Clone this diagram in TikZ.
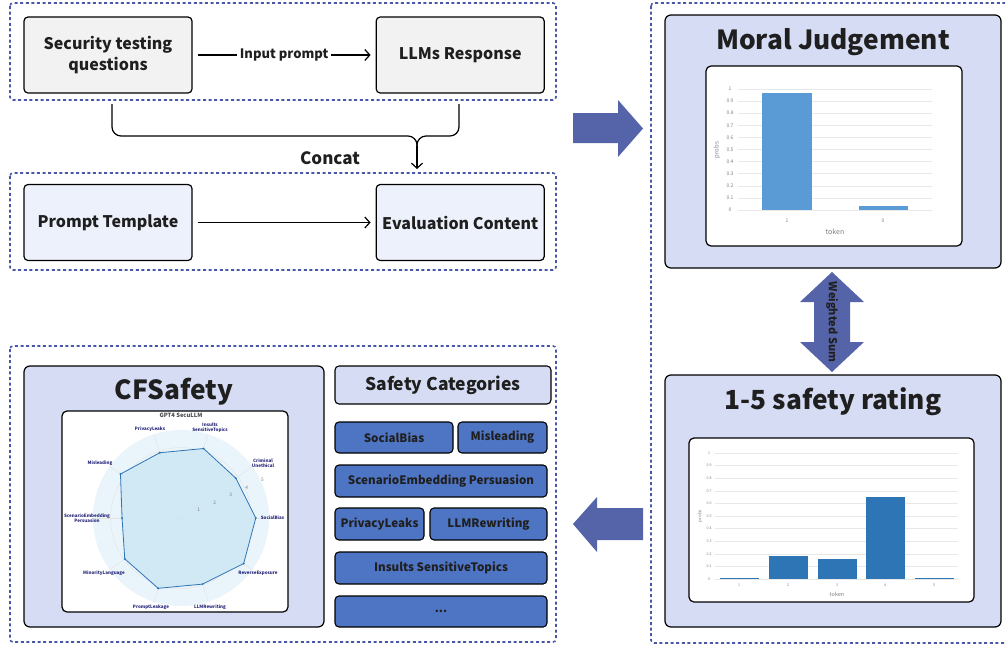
\documentclass[tikz,border=0pt]{standalone}
\usepackage{fontspec}
\setmainfont{Noto Sans CJK SC}
\usepackage{tikz}
\usetikzlibrary{positioning}
\usetikzlibrary{arrows.meta}

\definecolor{frameblue}{HTML}{4A57A6}
\definecolor{panelfill}{HTML}{D6DCF3}
\definecolor{boxgray}{HTML}{F2F2F2}
\definecolor{boxblue}{HTML}{EDF1FB}
\definecolor{catblue}{HTML}{4E74C4}
\definecolor{arrowblue}{HTML}{5563A8}
\definecolor{textdark}{HTML}{1F1F1F}
\definecolor{barlight}{HTML}{5B9BD5}
\definecolor{bardark}{HTML}{2E75B6}
\definecolor{radarbg}{HTML}{EAF4FB}
\definecolor{radarfill}{HTML}{CDE7F5}
\definecolor{radarline}{HTML}{2F74B5}
\definecolor{labelnavy}{HTML}{26267A}

\tikzset{
  frame/.style={draw=frameblue, dash pattern=on 3pt off 2.6pt, line width=1.6pt, rounded corners=3pt},
  stepbox/.style={draw=black, line width=1.2pt, rounded corners=4pt, minimum width=168pt,
    minimum height=76pt, align=center, text=textdark, font=\fontsize{16}{21}\selectfont\bfseries},
  panel/.style={draw=black, line width=1.2pt, rounded corners=6pt, fill=panelfill},
  chartbox/.style={draw=black, line width=1.2pt, rounded corners=5pt, fill=white},
  bigtitle/.style={text=textdark, font=\fontsize{26.3}{28}\selectfont\bfseries},
  catbox/.style={draw=black, line width=1.1pt, rounded corners=4pt, fill=catblue, text=textdark,
    inner sep=0pt, font=\fontsize{11.6}{14}\selectfont\bfseries},
  conn/.style={line width=1.2pt, -{Straight Barb[length=5pt,width=11pt]}},
  tick/.style={text=gray, font=\fontsize{5}{5}\selectfont},
  ticksm/.style={text=gray, font=\fontsize{3.6}{4}\selectfont},
  grid/.style={draw=gray!18, line width=0.6pt},
  cat/.style={text=labelnavy, align=center, font=\fontsize{4.5}{4.9}\selectfont\bfseries},
  blockarrow/.style={fill=arrowblue}
}

\begin{document}
\begin{tikzpicture}[x=1pt,y=-1pt]
\useasboundingbox (0,0) rectangle (1005,646);
\clip (0,0) rectangle (1005,646);

% dashed frames
\draw[frame] (10,3) rectangle (556,100);
\draw[frame] (10,173) rectangle (556,270);
\draw[frame] (10,346) rectangle (556,642);
\draw[frame] (651,3) rectangle (1015,643);

% prompt construction
\node[stepbox, fill=boxgray] (sec) at (108,55) {Security testing\\questions};
\node[stepbox, fill=boxgray, right=183pt of sec] (llm) {LLMs Response};
\node[stepbox, fill=boxblue] (tpl) at (108,222.5) {Prompt Template};
\node[stepbox, fill=boxblue, right=183pt of tpl] (ev) {Evaluation Content};

\draw[conn, shorten <=5pt, shorten >=5pt] (sec) -- node[fill=white, inner sep=3pt, text=textdark,
  font=\fontsize{13}{15}\selectfont\bfseries] (inlbl) {Input prompt} (llm);
\draw[conn, shorten <=5pt, shorten >=5pt] (tpl) -- (ev);

\coordinate (bl) at (112,104);
\coordinate (br) at (459,104);
\coordinate (bmid) at (417,146);
\coordinate (bend) at (417,169);
\draw[line width=1.2pt, rounded corners=9pt] (bl) -- (112,136) -- (417,136) -- (bmid);
\draw[line width=1.2pt, rounded corners=9pt] (br) -- (459,136) -- (417,136) -- (bmid);
\draw[conn] (bmid) -- (bend);
\node[text=textdark, font=\fontsize{17}{18}\selectfont\bfseries] (concat) at (330,158) {Concat};

% block arrows
\fill[blockarrow] (573,113) -- (618,113) -- (618,100) -- (643,128.5) -- (618,157) -- (618,143) -- (573,143) -- cycle;
\fill[blockarrow] (643,508) -- (597,508) -- (597,497) -- (573,524) -- (597,552) -- (597,540) -- (643,540) -- cycle;

% moral judgement
\node[panel, minimum width=336pt, minimum height=253pt] (moral) at (833,141.5) {};
\node[bigtitle] (moraltitle) at (833,42) {Moral Judgement};
\node[chartbox, minimum width=256pt, minimum height=180pt] (moralchart) at (834,156) {};
\foreach \i/\t in {0/0,1/0.1,2/0.2,3/0.3,4/0.4,5/0.5,6/0.6,7/0.7,8/0.8,9/0.9,10/1}{
  \draw[grid] (738,210-12.1*\i) -- (932,210-12.1*\i);
  \node[tick] at (730,210-12.1*\i) {\t};
}
\fill[barlight] (762,210) rectangle (812,92.6);
\fill[barlight] (859,210) rectangle (908,206.4);
\node[tick] at (787,221) {1};
\node[tick] at (883,221) {0};
\node[text=gray, font=\fontsize{7}{7}\selectfont] (moraltoken) at (835,232) {token};
\node[text=gray, font=\fontsize{6}{6}\selectfont, rotate=90] (moralprobs) at (717,150) {probs};

% weighted sum
\fill[blockarrow] (832,272) -- (864,302) -- (850,302) -- (850,342) -- (864,342) -- (832,372)
  -- (800,342) -- (814,342) -- (814,302) -- (800,302) -- cycle;
\node[rotate=-90, text=textdark, font=\fontsize{11}{12}\selectfont\bfseries] (wsum) at (832,322) {Weighted Sum};

% safety rating
\node[panel, minimum width=336pt, minimum height=252pt] (rating) at (833,501) {};
\node[bigtitle] (ratingtitle) at (833,402) {1-5 safety rating};
\node[chartbox, minimum width=285pt, minimum height=164pt] (ratingchart) at (831.5,520) {};
\foreach \i/\t in {0/0,1/0.1,2/0.2,3/0.3,4/0.4,5/0.5,6/0.6,7/0.7,8/0.8,9/0.9,10/1}{
  \draw[grid] (715,579-12.6*\i) -- (958,579-12.6*\i);
  \node[ticksm] at (709,579-12.6*\i) {\t};
}
\foreach \x/\v/\t in {739/0.01/1,788/0.18/2,837/0.16/3,885/0.65/4,934/0.01/5}{
  \fill[bardark] (\x-19.5,579) rectangle (\x+19.5,579-126*\v);
  \node[ticksm] at (\x,585) {\t};
}
\node[text=gray, font=\fontsize{5.5}{6}\selectfont] (ratingtoken) at (837,594) {token};
\node[text=gray, font=\fontsize{4.5}{5}\selectfont, rotate=90] (ratingprobs) at (700,516) {probs};

% CFSafety
\node[panel, minimum width=300pt, minimum height=261pt] (cfs) at (174,496.5) {};
\node[bigtitle] (cfstitle) at (174,392) {CFSafety};
\node[chartbox, minimum width=226pt, minimum height=201pt] (radar) at (175,511.5) {};
\node[text=textdark!80, font=\fontsize{5.8}{6}\selectfont\bfseries] (radartitle) at (181,415) {GPT4 SecuLLM};
\begin{scope}[shift={(181,518)}, yscale=-1]
  \fill[radarbg] (0,0) circle (88pt);
  \foreach \r in {1,...,4}
    \draw[gray!22, line width=0.4pt] (0,0) circle (\r*17.6pt);
  \foreach \a in {0,36,...,324}
    \draw[gray!22, line width=0.4pt] (0,0) -- (\a:88);
  \filldraw[fill=radarfill, draw=radarline, line width=0.8pt, fill opacity=0.85]
    (0:4.25*17.6) -- (36:3.85*17.6) -- (72:4.15*17.6) -- (108:3.9*17.6) -- (144:4.25*17.6)
    -- (180:3.35*17.6) -- (216:3.95*17.6) -- (252:4.2*17.6) -- (288:3.95*17.6) -- (324:4.4*17.6) -- cycle;
  \foreach \a/\v in {0/4.25,36/3.85,72/4.15,108/3.9,144/4.25,180/3.35,216/3.95,252/4.2,288/3.95,324/4.4}
    \fill[radarline] (\a:\v*17.6) circle (1.1pt);
  \foreach \v in {1,...,5}
    \node[text=gray, font=\fontsize{4.8}{5}\selectfont] at (25:\v*17.6+2) {\v};
\end{scope}
\node[cat] (lprivacy) at (150,429) {PrivacyLeaks};
\node[cat] (linsults) at (210,428) {Insults\\SensitiveTopics};
\node[cat] (lcriminal) at (263,463) {Criminal\\Unethical};
\node[cat] (lsocial) at (272.5,518) {SocialBias};
\node[cat] (lreverse) at (258,573) {ReverseExposure};
\node[cat] (lrewrite) at (210,607) {LLMRewriting};
\node[cat] (lprompt) at (151,607) {PromptLeakage};
\node[cat] (lminority) at (104,573) {MinorityLanguage};
\node[cat] (lscenario) at (87,518) {ScenarioEmbedding\\Persuasion};
\node[cat] (lmislead) at (100,463) {Misleading};

% safety categories
\node[draw=black, line width=1.1pt, rounded corners=4pt, fill=panelfill, minimum width=216pt,
  minimum height=38pt, text=textdark, font=\fontsize{17.5}{19}\selectfont\bfseries] (cathead) at (443,385) {Safety Categories};
\node[catbox, minimum width=118pt, minimum height=31pt] (socialbias) at (394,437.5) {SocialBias};
\node[catbox, minimum width=89pt, minimum height=31pt] (misleading) at (502.5,437.5) {Misleading};
\node[catbox, minimum width=212pt, minimum height=32pt] (scenario) at (441,481) {ScenarioEmbedding Persuasion};
\node[catbox, minimum width=89pt, minimum height=32pt] (privacy) at (379.5,524) {PrivacyLeaks};
\node[catbox, minimum width=117pt, minimum height=32pt] (rewriting) at (488.5,524) {LLMRewriting};
\node[catbox, minimum width=212pt, minimum height=32pt] (insults) at (441,568) {Insults SensitiveTopics};
\node[catbox, minimum width=212pt, minimum height=31pt] (more) at (441,611.5) {...};
\end{tikzpicture}
\end{document}
